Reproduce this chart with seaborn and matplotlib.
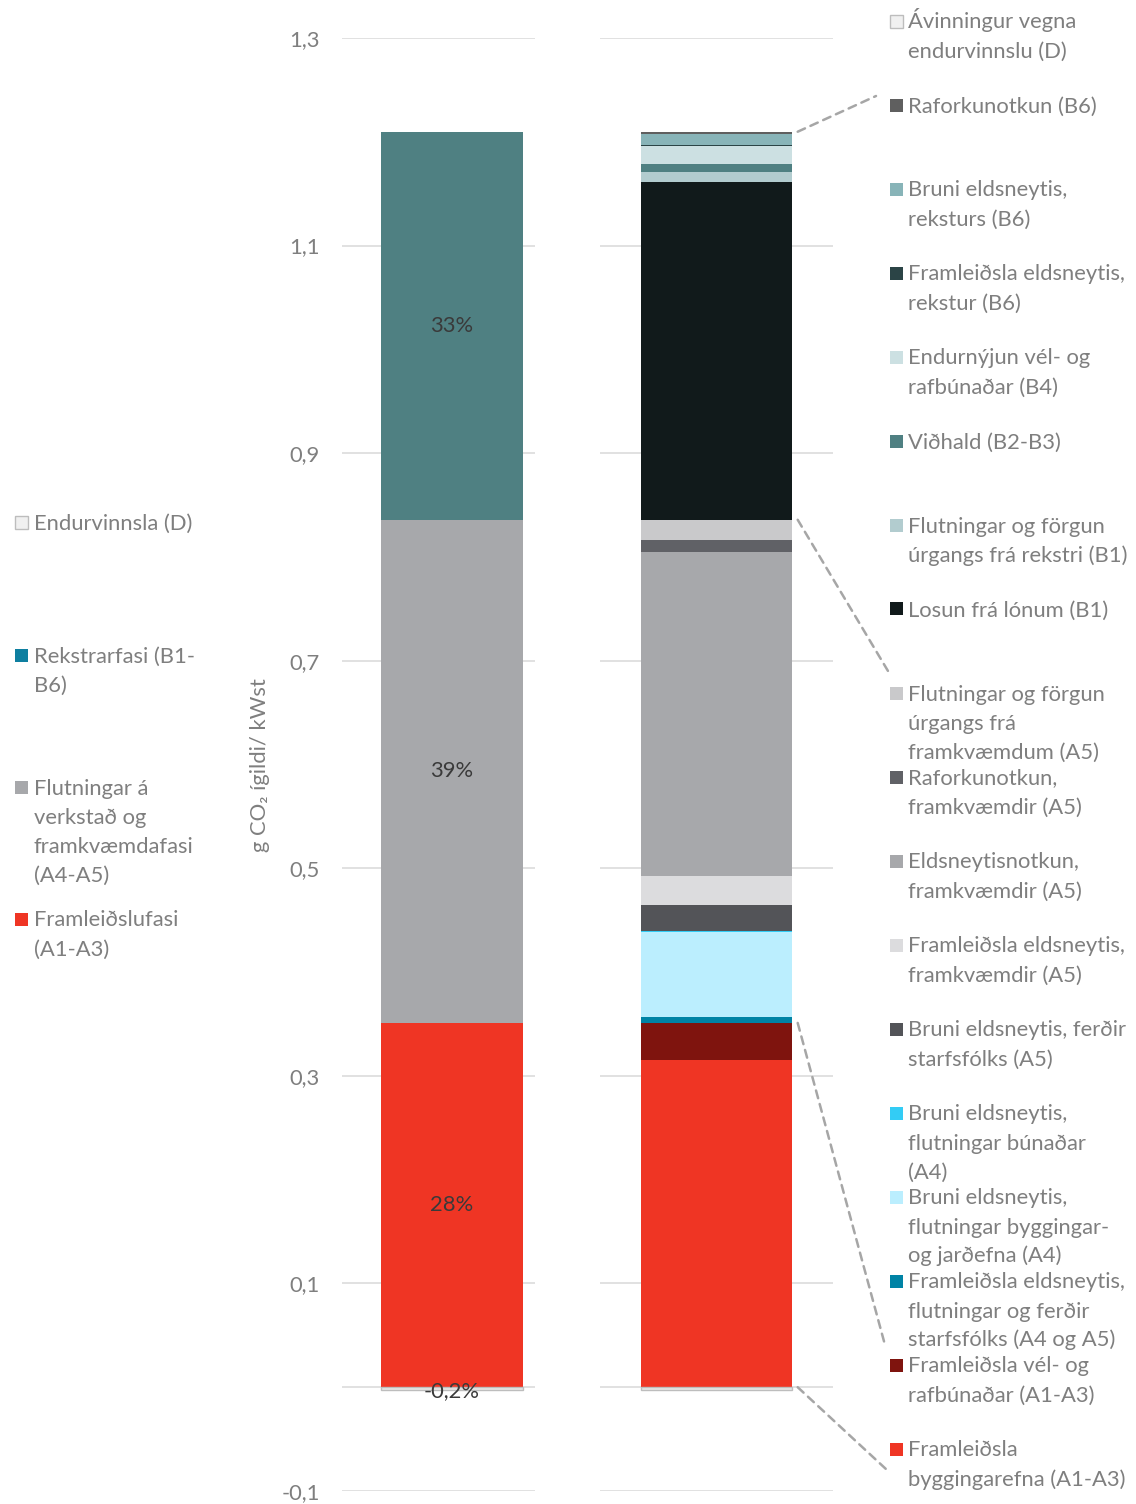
import numpy as np
import pandas as pd
import matplotlib
matplotlib.use("Agg")
import matplotlib.pyplot as plt
import seaborn as sns
from matplotlib.patches import Rectangle, ConnectionPatch

sns.set_theme(style="white")
plt.rcParams['font.family'] = ['Lato', 'DejaVu Sans']

# ---- Emission components, stacked bottom -> top (g CO2-eq / kWh) ----
components = [
    "Framleiðsla\nbyggingarefna (A1-A3)",
    "Framleiðsla vél- og\nrafbúnaðar (A1-A3)",
    "Framleiðsla eldsneytis,\nflutningar og ferðir\nstarfsfólks (A4 og A5)",
    "Bruni eldsneytis,\nflutningar byggingar-\nog jarðefna (A4)",
    "Bruni eldsneytis,\nflutningar búnaðar\n(A4)",
    "Bruni eldsneytis, ferðir\nstarfsfólks (A5)",
    "Framleiðsla eldsneytis,\nframkvæmdir (A5)",
    "Eldsneytisnotkun,\nframkvæmdir (A5)",
    "Raforkunotkun,\nframkvæmdir (A5)",
    "Flutningar og förgun\núrgangs frá\nframkvæmdum (A5)",
    "Losun frá lónum (B1)",
    "Flutningar og förgun\núrgangs frá rekstri (B1)",
    "Viðhald (B2-B3)",
    "Endurnýjun vél- og\nrafbúnaðar (B4)",
    "Framleiðsla eldsneytis,\nrekstur (B6)",
    "Bruni eldsneytis,\nreksturs (B6)",
    "Raforkunotkun (B6)",
]
values = [0.3154, 0.0356, 0.0058, 0.0819, 0.0010, 0.0251, 0.0279, 0.3122,
          0.0116, 0.0193, 0.3257, 0.0096, 0.0077, 0.0173, 0.0010, 0.0106, 0.0020]
phase_of = ["A1-A3", "A1-A3", "A4-A5", "A4-A5", "A4-A5", "A4-A5", "A4-A5", "A4-A5",
            "A4-A5", "A4-A5", "B1-B6", "B1-B6", "B1-B6", "B1-B6", "B1-B6", "B1-B6", "B1-B6"]
comp_colors = ["#ef3524", "#7f140e", "#0083a5", "#bbeefe", "#33ccf5", "#535458",
               "#dcdcde", "#a7a8ab", "#606166", "#c9c9cb", "#111a1b", "#b2cccf",
               "#4f8082", "#cce0e2", "#2b4446", "#88b4b8", "#5f5f5f"]

recycling_label = "Ávinningur vegna\nendurvinnslu (D)"
recycling_value = -0.0025
recycling_fill = "#e8e8e8"
recycling_edge = "#bdbdbd"

# ---- Life-cycle phases (left bar) ----
phases = ["A1-A3", "A4-A5", "B1-B6"]
phase_labels = ["Framleiðslufasi\n(A1-A3)",
                "Flutningar á\nverkstað og\nframkvæmdafasi\n(A4-A5)",
                "Rekstrarfasi (B1-\nB6)"]
phase_bar_colors = ["#ef3524", "#a7a8ab", "#4f8082"]
phase_key_colors = ["#ef3524", "#a7a8ab", "#0e7fa0"]
phase_shares = ["28%", "39%", "33%"]
recycling_phase_label = "Endurvinnsla (D)"
recycling_share = "-0,2%"

yticks = [-0.1, 0.1, 0.3, 0.5, 0.7, 0.9, 1.1, 1.3]
ytick_labels = ["-0,1", "0,1", "0,3", "0,5", "0,7", "0,9", "1,1", "1,3"]
ylabel = "g CO₂ ígildi/ kWst"

df = pd.DataFrame({"component": components, "value": values, "phase": phase_of,
                   "color": comp_colors})
phase_totals = df.groupby("phase")["value"].sum().reindex(phases).values

# ---- Figure layout ----
W, H = 1136, 1504
fig = plt.figure(figsize=(W / 100, H / 100), dpi=100)

def fx(px):
    return px / W

def fy(py):
    return 1 - py / H

ax_l = fig.add_axes([fx(342), fy(1491), fx(535) - fx(342), fy(38) - fy(1491)])
ax_r = fig.add_axes([fx(600), fy(1491), fx(833) - fx(600), fy(38) - fy(1491)])

grid_c = "#d9d9d9"
text_c = "#7f7f7f"
FS = 15.8


def stacked(ax, vals, colors):
    cum = np.cumsum(vals)
    # draw the tallest cumulative bar first so lower layers sit on top
    for c, col in list(zip(cum, colors))[::-1]:
        sns.barplot(x=[0], y=[c], ax=ax, color=col, width=0.8, saturation=1,
                    errorbar=None, linewidth=0, edgecolor="none", zorder=3)
    sns.barplot(x=[0], y=[recycling_value], ax=ax, color=recycling_fill, width=0.8,
                saturation=1, errorbar=None, linewidth=1, edgecolor=recycling_edge,
                zorder=3)
    return cum


cum_l = stacked(ax_l, phase_totals, phase_bar_colors)
cum_r = stacked(ax_r, values, comp_colors)

for ax, xl in ((ax_l, (-0.62, 0.468)), (ax_r, (-0.617, 0.617))):
    ax.set_ylim(-0.1, 1.3)
    ax.set_xlim(*xl)
    ax.set_yticks(yticks)
    ax.yaxis.grid(True, color=grid_c, linewidth=1.1)
    ax.xaxis.grid(False)
    ax.set_axisbelow(True)
    ax.axhline(0, color=grid_c, linewidth=1.1, zorder=2)
    ax.set_xticks([])
    ax.set_xlabel("")
    ax.set_ylabel("")
    for s in ax.spines.values():
        s.set_visible(False)
    ax.tick_params(axis="y", length=0, pad=16, labelsize=FS, labelcolor=text_c)

ax_l.set_yticklabels(ytick_labels)
ax_r.set_yticklabels([])

fig.text(fx(260), fy(765), ylabel, rotation=90, ha="center", va="center",
         fontsize=FS, color=text_c)

# share labels inside the left bar
bottoms = np.concatenate([[0], cum_l[:-1]])
for b, v, lab in zip(bottoms, phase_totals, phase_shares):
    ax_l.text(0, b + v / 2, lab, ha="center", va="center", fontsize=FS,
              color="#3a3a3a", zorder=5)
ax_l.text(0, recycling_value - 0.001, recycling_share, ha="center", va="center",
          fontsize=FS, color="#3a3a3a", zorder=5)


# ---- Legends ----
def legend_entry(x_box, x_txt, y, label, face, edge=None):
    s = 13
    fig.patches.append(Rectangle((fx(x_box), fy(y + s / 2)), s / W, s / H,
                                 transform=fig.transFigure, facecolor=face,
                                 edgecolor=edge if edge else "none",
                                 linewidth=1 if edge else 0))
    for i, line in enumerate(label.split("\n")):
        fig.text(fx(x_txt), fy(y + i * 29 + 7.5), line, ha="left", va="baseline",
                 fontsize=FS, color=text_c)


left_entries = [(recycling_phase_label, "#f0f0f0", recycling_edge),
                (phase_labels[2], phase_key_colors[2], None),
                (phase_labels[1], phase_key_colors[1], None),
                (phase_labels[0], phase_key_colors[0], None)]
for (lab, col, edge), y in zip(left_entries, [522, 655, 787, 919]):
    legend_entry(15, 34, y, lab, col, edge)

right_entries = [(recycling_label, "#f0f0f0", recycling_edge)] + \
    [(c, col, None) for c, col in zip(components[::-1], comp_colors[::-1])]
for k, (lab, col, edge) in enumerate(right_entries):
    legend_entry(890, 908, 21 + 84 * k, lab, col, edge)

# ---- Dashed connectors from the detailed bar to the legend groups ----
a13_top = cum_r[1]
a45_top = cum_r[9]
connectors = [(cum_r[-1], (876, 96)), (a45_top, (888, 671)),
              (a13_top, (885, 1345)), (0.0, (887, 1470))]
for yv, (px, py) in connectors:
    con = ConnectionPatch(xyA=(0.43, yv), coordsA=ax_r.transData,
                          xyB=(fx(px), fy(py)), coordsB=fig.transFigure,
                          color="#a6a6a6", linewidth=1.8,
                          linestyle=(0, (3.2, 2.4)))
    fig.add_artist(con)

fig.savefig("out.png", dpi=100)
